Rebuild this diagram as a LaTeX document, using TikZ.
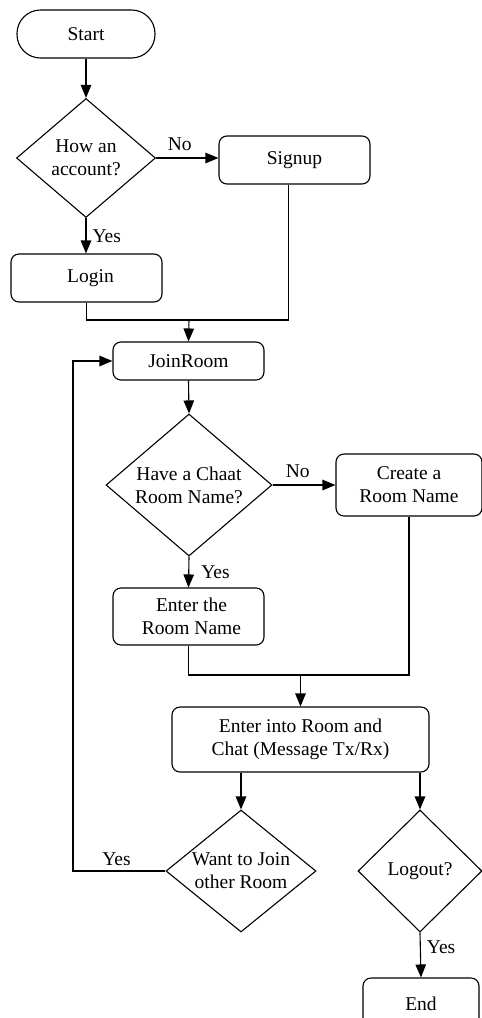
\documentclass[tikz,border=0pt]{standalone}
\usepackage{fontspec}
\setmainfont{Liberation Serif}
\usetikzlibrary{shapes.geometric,arrows.meta,calc}
\begin{document}
\begin{tikzpicture}[x=1pt,y=-1pt,
  every node/.style={font=\fontsize{19.5}{23}\selectfont},
  box/.style={draw, rounded corners=8pt, line width=1.1pt, inner sep=0pt, align=center},
  term/.style={draw, rounded corners=23.5pt, line width=1.1pt, inner sep=0pt},
  dia/.style={draw, diamond, inner sep=0pt, line width=1.1pt},
  conn/.style={line width=1.1pt},
  arr/.style={line width=1.1pt, -{Triangle[length=13pt,width=10.5pt]}},
  lbl/.style={inner sep=0pt}
]
\clip (0,0) rectangle (482,1018);

% nodes
\node[term, minimum width=138pt, minimum height=48pt] (start) at (86,34) {Start};
\node[dia, minimum width=139pt, minimum height=119pt,
      label={[align=center]center:{How an\\account?}}] (d1) at (86,158) {};
\node[box, minimum width=151pt, minimum height=48pt] (signup) at (294.5,160) {Signup};
\node[box, minimum width=151pt, minimum height=48pt] (login) at (86.5,278) {\hspace*{8pt}Login};
\node[box, minimum width=151pt, minimum height=38pt] (join) at (188.5,361) {JoinRoom};
\node[dia, minimum width=166pt, minimum height=142pt,
      label={[align=center]center:{Have a Chaat\\Room Name?}}] (d2) at (189,485) {};
\node[box, minimum width=146pt, minimum height=62pt] (create) at (409,485) {Create a\\Room Name};
\node[box, minimum width=151pt, minimum height=57pt] (enter) at (188.5,616.5) {\hspace*{6pt}Enter the\\\hspace*{6pt}Room Name};
\node[box, minimum width=257pt, minimum height=65pt] (chat) at (300.5,739.5) {Enter into Room and\\Chat (Message Tx/Rx)};
\node[dia, minimum width=150pt, minimum height=122pt,
      label={[align=center]center:{Want to Join\\other Room}}] (want) at (241,871) {};
\node[dia, minimum width=124pt, minimum height=122pt,
      label={center:Logout?}] (logout) at (420,871) {};
\node[box, minimum width=116pt, minimum height=52pt] (end) at (421,1004) {End};

% helper coordinates
\coordinate (m1) at (189,320);
\coordinate (su) at ([xshift=-6pt]signup.south);
\coordinate (m2) at (300.5,675);
\coordinate (lp) at (73,871);

% connectors
\draw[arr] (start) -- (d1.north);
\draw[arr] (d1.east) -- (d1.east -| signup.west) node[lbl, pos=0.38, above=7pt] {No};
\draw[arr] (d1.south) -- (d1.south |- login.north) node[lbl, midway, right=6pt] {Yes};
\draw[conn] (login.south) |- (su |- m1) -- (su);
\draw[arr] (m1) -- (join.north);
\draw[arr] (join.south) -- (d2.north);
\draw[arr] (d2.east) -- (create.west) node[lbl, pos=0.4, above=7pt] {No};
\draw[arr] (d2.south) -- (enter.north) node[lbl, midway, right=12pt] {Yes};
\draw[conn] (enter.south) |- (create.south |- m2) -- (create.south);
\draw[arr] (m2) -- (chat.north);
\draw[arr] (chat.south -| want.north) -- (want.north);
\draw[arr] (chat.south -| logout.north) -- (logout.north);
\draw[arr] (logout.south) -- (end.north) node[lbl, pos=0.32, right=6pt] {Yes};
\draw[arr] (want.west) -- (lp) node[lbl, pos=0.53, above=5pt] {Yes} |- (join.west);
\end{tikzpicture}
\end{document}
